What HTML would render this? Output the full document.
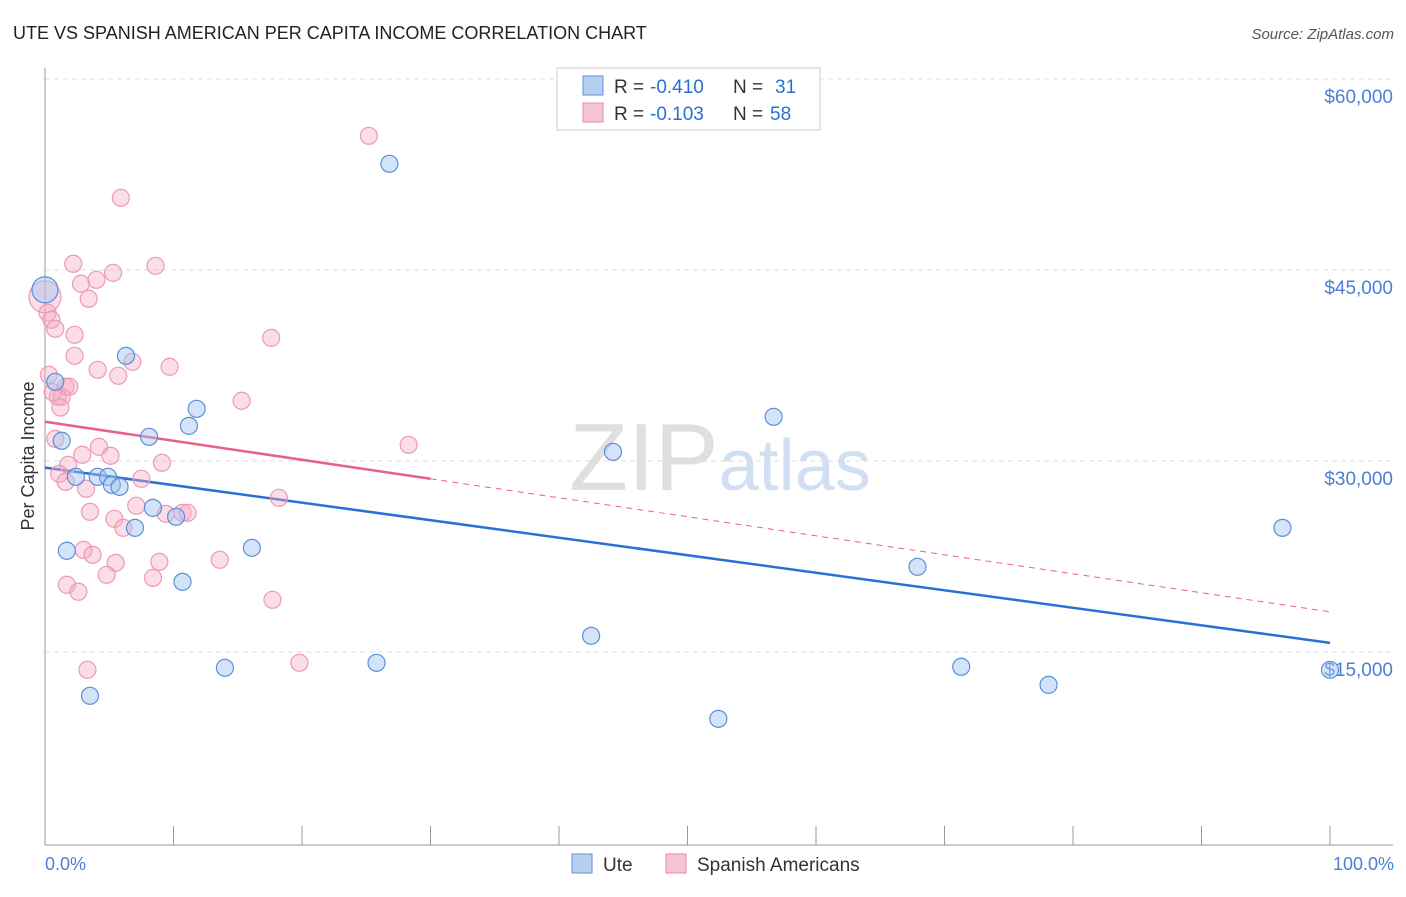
<!DOCTYPE html>
<html><head><meta charset="utf-8"><style>
body{margin:0;background:#fff;font-family:"Liberation Sans",sans-serif;}
svg text{font-family:"Liberation Sans",sans-serif;}
</style></head><body>
<svg id="chart" width="1406" height="892" viewBox="0 0 1406 892" xmlns="http://www.w3.org/2000/svg">
<text x="13" y="39" font-size="18" fill="#222">UTE VS SPANISH AMERICAN PER CAPITA INCOME CORRELATION CHART</text>
<text x="1394" y="39" font-size="15" fill="#555" text-anchor="end" font-style="italic">Source: ZipAtlas.com</text>
<text x="720" y="490" font-size="96" text-anchor="middle" fill="#d8d8d8" font-family="Liberation Serif" opacity="0.8">ZIP<tspan fill="#c6d8ef" font-family="Liberation Sans" font-size="72">atlas</tspan></text>
<g id="grid"></g>
<g id="axes"></g>
<g id="trends"></g>
<g id="points"></g>
<text transform="translate(34,456) rotate(-90)" font-size="18" fill="#333" text-anchor="middle">Per Capita Income</text>
<text x="45" y="870" font-size="18" fill="#4a7fd4">0.0%</text>
<text x="1394" y="870" font-size="18" fill="#4a7fd4" text-anchor="end">100.0%</text>
<g>
<rect x="557" y="68" width="263" height="62" fill="#fff" stroke="#ccc"/>
<rect x="583" y="76" width="20" height="19" fill="#b8d0f0" stroke="#5b8fd9"/>
<rect x="583" y="103" width="20" height="19" fill="#f7c6d5" stroke="#e88aa8"/>
<text x="614" y="93" font-size="19" fill="#333">R =</text>
<text x="650" y="93" font-size="19" fill="#2a6fd6">-0.410</text>
<text x="733" y="93" font-size="19" fill="#333">N =</text>
<text x="775" y="93" font-size="19" fill="#2a6fd6">31</text>
<text x="614" y="120" font-size="19" fill="#333">R =</text>
<text x="650" y="120" font-size="19" fill="#2a6fd6">-0.103</text>
<text x="733" y="120" font-size="19" fill="#333">N =</text>
<text x="770" y="120" font-size="19" fill="#2a6fd6">58</text>
</g>
<g>
<rect x="572" y="854" width="20" height="19" fill="#b8d0f0" stroke="#5b8fd9"/>
<text x="603" y="871" font-size="19" fill="#333">Ute</text>
<rect x="666" y="854" width="20" height="19" fill="#f7c6d5" stroke="#e88aa8"/>
<text x="697" y="871" font-size="19" fill="#333">Spanish Americans</text>
</g>
</svg>
<script>
const yTicks=[15000,30000,45000,60000];
const yTickLabels=["$15,000","$30,000","$45,000","$60,000"];
const uteX=[0,0.8,1.3,2.4,4.1,4.9,5.2,5.8,6.3,7.0,8.1,8.4,10.2,10.7,11.2,11.8,16.1,14.0,3.5,1.7,25.8,26.8,42.5,44.2,52.4,56.7,67.9,71.3,78.1,96.3,100];
const uteY=[43440,36220,31590,28760,28760,28760,28130,27970,38260,24750,31900,26320,25620,20510,32760,34100,23180,13760,11560,22950,14150,53340,16270,30720,9750,33470,21690,13840,12420,24750,13600];
const spanX=[0,0.2,0.5,0.8,2.2,2.8,4.0,5.3,3.4,2.3,2.3,5.9,8.6,25.2,17.6,9.7,6.8,5.7,4.1,0.3,1.6,1.9,1.0,1.3,15.3,28.3,0.8,4.2,5.1,2.9,9.1,1.8,1.1,1.6,3.2,7.5,18.2,7.1,3.5,5.4,9.4,10.7,11.1,6.1,3.0,3.7,5.5,8.9,13.6,4.8,8.4,1.7,2.6,17.7,3.3,19.8,1.2,0.6];
const spanY=[42890,41640,41090,40380,45490,43920,44230,44780,42740,39910,38260,50670,45330,55540,39670,37400,37790,36690,37160,36770,35830,35830,35040,35040,34730,31270,31740,31110,30410,30490,29860,29700,28990,28370,27820,28600,27110,26480,26010,25460,25850,25930,25930,24750,23020,22630,22000,22080,22240,21060,20820,20280,19730,19100,13600,14150,34200,35400];
const big=[0];
const uteTrend=[29480,15720];
const spanTrend=[33080,18160];
const ns="http://www.w3.org/2000/svg";
const X0=45,X1=1330,YT=79;
const xs=v=>X0+(X1-X0)*v/100;
const ys=v=>YT+(60000-v)*191/15000;
function mk(tag,attrs,parent){const e=document.createElementNS(ns,tag);for(const k in attrs)e.setAttribute(k,attrs[k]);parent.appendChild(e);return e;}
const grid=document.getElementById('grid'),axes=document.getElementById('axes'),tr=document.getElementById('trends'),pts=document.getElementById('points');
yTicks.forEach((t,i)=>{
 const l=mk('line',{x1:45,x2:1393,y1:ys(t),y2:ys(t),stroke:'#ddd','stroke-dasharray':'5,4'},grid);
 
 
 const tx=mk('text',{x:1393,y:ys(t)+24,'font-size':19,fill:'#4a7fd4','text-anchor':'end'},grid);
 tx.textContent=yTickLabels[i];
 
 
});
const ax1=mk('line',{x1:45,x2:45,y1:68,y2:845,stroke:'#999'},axes);


const ax2=mk('line',{x1:45,x2:1393,y1:845,y2:845,stroke:'#999'},axes);


for(let i=0;i<=10;i++){const t=mk('line',{x1:xs(i*10),x2:xs(i*10),y1:826,y2:845,stroke:'#999'},axes);
 
 }
const bl=mk('line',{x1:xs(0),y1:ys(uteTrend[0]),x2:xs(100),y2:ys(uteTrend[1]),stroke:'#2a6fd6','stroke-width':2.5},tr);


const sAt=p=>spanTrend[0]+(spanTrend[1]-spanTrend[0])*p/100;
const ps=mk('line',{x1:xs(0),y1:ys(sAt(0)),x2:xs(30),y2:ys(sAt(30)),stroke:'#e8608a','stroke-width':2.5},tr);


const pd=mk('line',{x1:xs(30),y1:ys(sAt(30)),x2:xs(100),y2:ys(sAt(100)),stroke:'#e8608a','stroke-width':1,'stroke-dasharray':'6,5'},tr);


spanX.forEach((x,i)=>{const c=mk('circle',{cx:xs(x),cy:ys(spanY[i]),r:big.includes(i)?16:8.5,fill:'rgba(244,170,195,0.4)',stroke:'#eb9ab5','stroke-width':1.2},pts);
 
 });
uteX.forEach((x,i)=>{const c=mk('circle',{cx:xs(x),cy:ys(uteY[i]),r:big.includes(i)?13:8.5,fill:'rgba(160,195,240,0.45)',stroke:'#5b8fd9','stroke-width':1.2},pts);
 
 });
</script>
</body></html>
